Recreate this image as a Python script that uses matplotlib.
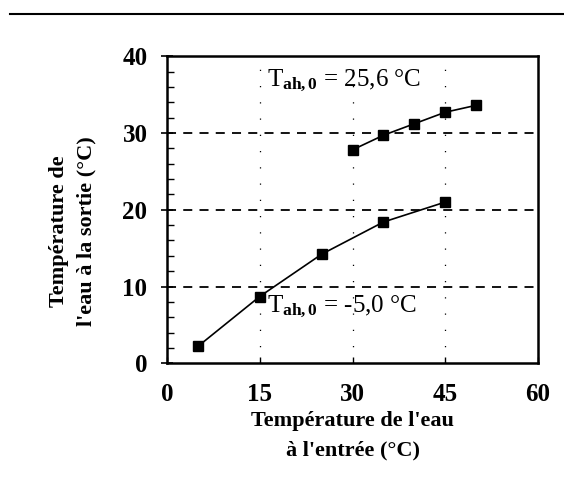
import matplotlib
matplotlib.use("Agg")
import matplotlib.pyplot as plt
from matplotlib.ticker import MultipleLocator

x_low = [5, 15, 25, 35, 45]
y_low = [2.2, 8.7, 14.2, 18.4, 21.0]
x_high = [30, 35, 40, 45, 50]
y_high = [27.8, 29.7, 31.2, 32.7, 33.6]
xticks = [0, 15, 30, 45, 60]
yticks = [0, 10, 20, 30, 40]

plt.rcParams['font.family'] = ['Liberation Serif', 'DejaVu Serif']
plt.rcParams['mathtext.fontset'] = 'custom'
plt.rcParams['mathtext.rm'] = 'Liberation Serif'
plt.rcParams['mathtext.it'] = 'Liberation Serif:italic'
plt.rcParams['mathtext.bf'] = 'Liberation Serif:bold'

fig = plt.figure(figsize=(5.64, 4.97), dpi=100)
ax = fig.add_axes([0.296, 0.269, 0.658, 0.618])

for y in [10, 20, 30]:
    ax.axhline(y, color='black', lw=1.3, ls=(0, (5, 4)), zorder=1)
for x in [15, 30, 45]:
    ax.axvline(x, color='black', lw=0.9, ls=(0, (1, 12)), zorder=1)

ax.plot(x_low, y_low, color='black', lw=1.2, marker='s', ms=7, zorder=3)
ax.plot(x_high, y_high, color='black', lw=1.2, marker='s', ms=7, zorder=3)

ax.set_xlim(0, 60)
ax.set_ylim(0, 40)
ax.set_xticks(xticks)
ax.set_yticks(yticks)
ax.yaxis.set_minor_locator(MultipleLocator(2))
ax.tick_params(axis='y', which='minor', direction='in', length=5, width=1)
ax.tick_params(axis='y', which='major', direction='inout', length=8, width=1.2)
ax.tick_params(axis='x', which='major', direction='in', length=4, width=1)
ax.tick_params(axis='x', labelsize=18, pad=14)
ax.tick_params(axis='y', labelsize=18, pad=10)
for lab in ax.get_xticklabels() + ax.get_yticklabels():
    lab.set_fontweight('bold')
for s in ax.spines.values():
    s.set_linewidth(1.8)

ax.text(16.2, 36.8, r'T$_{\mathbf{ah,0}}$ = 25,6 °C', fontsize=18, va='center', ha='left')
ax.text(16.2, 7.3, r'T$_{\mathbf{ah,0}}$ = -5,0 °C', fontsize=18, va='center', ha='left')

ax.set_xlabel("Température de l'eau\nà l'entrée (°C)", fontsize=16, fontweight='bold',
              labelpad=4, linespacing=1.6)
ax.set_ylabel("Température de\nl'eau à la sortie (°C)", fontsize=16, fontweight='bold',
              linespacing=1.5)
ax.yaxis.set_label_coords(-0.19, 0.43)

fig.add_artist(plt.Line2D([0.018, 1.0], [0.972, 0.972], color='black', lw=1.5,
                          transform=fig.transFigure))

fig.savefig('out.png', dpi=100)
